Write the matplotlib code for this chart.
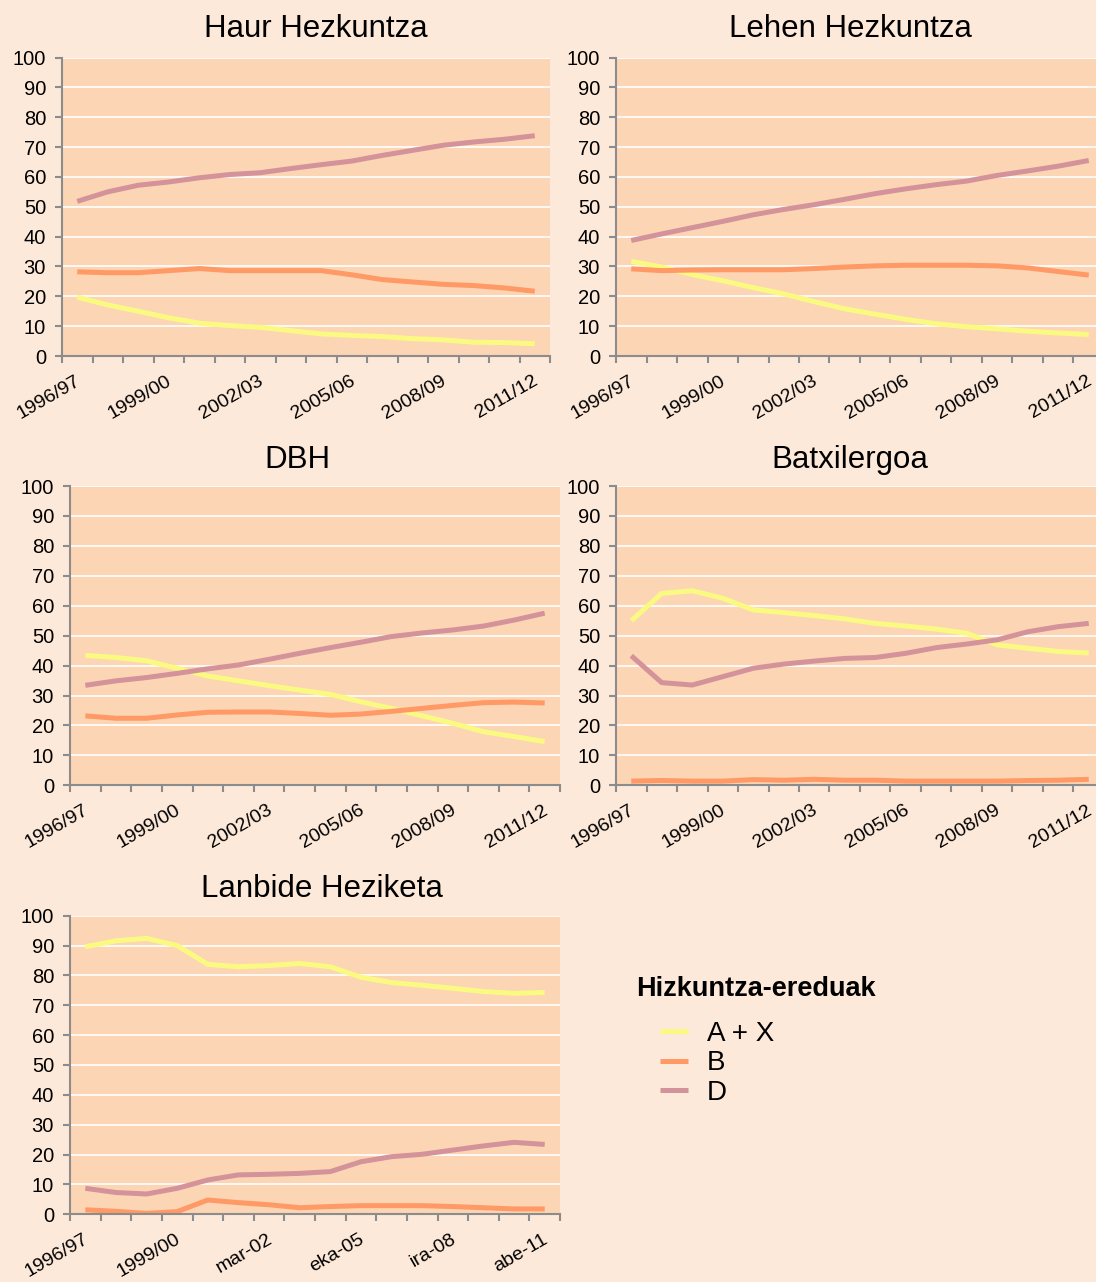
import matplotlib
matplotlib.use("Agg")
import matplotlib.pyplot as plt
from matplotlib.transforms import ScaledTranslation

plt.rcParams['font.family'] = ['Liberation Sans', 'DejaVu Sans']

# school years, 16 categories
years = ['1996/97', '1997/98', '1998/99', '1999/00', '2000/01', '2001/02',
         '2002/03', '2003/04', '2004/05', '2005/06', '2006/07', '2007/08',
         '2008/09', '2009/10', '2010/11', '2011/12']
tick_labels = ['1996/97', '1999/00', '2002/03', '2005/06', '2008/09', '2011/12']
tick_labels_lh = ['1996/97', '1999/00', 'mar-02', 'eka-05', 'ira-08', 'abe-11']

series_names = ['A + X', 'B', 'D']

haur_ax = [19.7, 17.1, 15.0, 12.8, 11.0, 10.2, 9.6, 8.5, 7.4, 6.9, 6.5, 5.8, 5.4, 4.6, 4.5, 4.1]
haur_b = [28.2, 27.9, 27.9, 28.6, 29.3, 28.6, 28.6, 28.6, 28.6, 27.2, 25.6, 24.8, 24.0, 23.6, 22.8, 21.7]
haur_d = [51.8, 55.0, 57.2, 58.3, 59.7, 60.8, 61.4, 62.8, 64.1, 65.3, 67.2, 68.9, 70.6, 71.7, 72.6, 73.8]

lehen_ax = [31.7, 29.8, 27.3, 25.2, 22.9, 20.8, 18.2, 15.8, 14.0, 12.3, 10.8, 9.8, 9.1, 8.3, 7.7, 7.2]
lehen_b = [29.2, 28.6, 28.8, 28.9, 28.9, 28.9, 29.3, 29.8, 30.2, 30.4, 30.4, 30.4, 30.2, 29.5, 28.3, 27.1]
lehen_d = [38.7, 40.9, 43.0, 45.1, 47.3, 49.1, 50.7, 52.5, 54.4, 56.0, 57.4, 58.6, 60.5, 62.0, 63.6, 65.5]

dbh_ax = [43.4, 42.7, 41.6, 39.1, 36.5, 34.9, 33.3, 31.8, 30.4, 27.9, 25.7, 23.2, 20.7, 17.9, 16.3, 14.6]
dbh_b = [23.2, 22.4, 22.4, 23.5, 24.4, 24.5, 24.5, 24.0, 23.4, 23.8, 24.7, 25.7, 26.7, 27.6, 27.8, 27.5]
dbh_d = [33.4, 34.9, 36.0, 37.4, 38.9, 40.2, 42.1, 44.1, 46.0, 47.8, 49.7, 50.9, 51.9, 53.2, 55.2, 57.5]

batx_ax = [55.0, 64.1, 65.0, 62.5, 58.6, 57.7, 56.7, 55.6, 54.1, 53.2, 52.2, 50.8, 46.9, 45.8, 44.7, 44.2]
batx_b = [1.4, 1.6, 1.4, 1.4, 1.9, 1.7, 2.0, 1.7, 1.7, 1.4, 1.4, 1.4, 1.4, 1.6, 1.7, 2.0]
batx_d = [43.3, 34.3, 33.5, 36.3, 39.1, 40.5, 41.5, 42.4, 42.7, 44.1, 46.0, 47.2, 48.6, 51.3, 53.0, 54.1]

lanb_ax = [89.6, 91.6, 92.4, 90.0, 83.7, 82.9, 83.3, 84.0, 82.9, 79.4, 77.6, 76.7, 75.7, 74.6, 74.0, 74.3]
lanb_b = [1.5, 1.0, 0.3, 0.9, 4.8, 3.9, 3.2, 2.2, 2.6, 2.9, 2.9, 2.9, 2.6, 2.2, 1.8, 1.8]
lanb_d = [8.7, 7.3, 6.8, 8.7, 11.5, 13.2, 13.4, 13.7, 14.3, 17.6, 19.3, 20.1, 21.5, 22.9, 24.1, 23.4]

colors = ['#FAFA82', '#FF9966', '#D4939A']
bg = '#FDE9D9'
plot_bg = '#FCD5B4'
axis_gray = '#8C8C8C'

W, H = 1096, 1282
fig = plt.figure(figsize=(W / 100, H / 100), dpi=100, facecolor=bg)


def px_axes(x0, x1, y0, y1):
    return fig.add_axes([x0 / W, 1 - y1 / H, (x1 - x0) / W, (y1 - y0) / H])


panels = [
    ('Haur Hezkuntza', (62, 550, 57.5, 356), (316, 29), tick_labels, [haur_ax, haur_b, haur_d]),
    ('Lehen Hezkuntza', (616, 1104, 57.5, 356), (850, 29), tick_labels, [lehen_ax, lehen_b, lehen_d]),
    ('DBH', (70, 560, 486, 785.3), (297, 460), tick_labels, [dbh_ax, dbh_b, dbh_d]),
    ('Batxilergoa', (616, 1104, 486, 785.3), (850, 460), tick_labels, [batx_ax, batx_b, batx_d]),
    ('Lanbide Heziketa', (70, 560, 915.7, 1214.3), (322, 889), tick_labels_lh, [lanb_ax, lanb_b, lanb_d]),
]

# small shift of the rotated category labels, 4 px to the right
label_shift = ScaledTranslation(4 / 100, 0, fig.dpi_scale_trans)

x = list(range(len(years)))
handles = None
for title, box, tpos, xlabels, data in panels:
    ax = px_axes(*box)
    ax.set_facecolor(plot_bg)
    lines = []
    for vals, c, name in zip(data, colors, series_names):
        ln, = ax.plot(x, vals, color=c, lw=3.6, label=name, solid_capstyle='butt')
        lines.append(ln)
    if handles is None:
        handles = lines
    ax.set_xlim(-0.5, len(years) - 0.5)
    ax.set_ylim(0, 100)
    ax.set_yticks(range(0, 101, 10))
    ax.grid(axis='y', color='white', lw=1.2)
    ax.set_axisbelow(True)
    for s in ['top', 'right']:
        ax.spines[s].set_visible(False)
    for s in ['left', 'bottom']:
        ax.spines[s].set_color(axis_gray)
        ax.spines[s].set_linewidth(1.5)
    ax.tick_params(axis='y', length=5, width=1.5, color=axis_gray, pad=6.5,
                   labelsize=14.5)
    # category boundaries as tick marks, labels on every third category
    ax.set_xticks([i - 0.5 for i in range(len(years) + 1)])
    ax.set_xticklabels([])
    ax.tick_params(axis='x', which='major', length=5, width=1.5, color=axis_gray)
    ax.set_xticks(x[::3], minor=True)
    ax.set_xticklabels(xlabels, minor=True, rotation=30, ha='right', va='baseline',
                       rotation_mode='anchor', fontsize=14)
    ax.tick_params(axis='x', which='minor', length=0, pad=20)
    for lab in ax.get_xticklabels(minor=True):
        lab.set_transform(lab.get_transform() + label_shift)
    fig.text(tpos[0] / W, 1 - tpos[1] / H, title, fontsize=22.5, ha='center', va='center')

fig.text(636 / W, 1 - 989 / H, 'Hizkuntza-ereduak', fontsize=19.5, fontweight='bold',
         ha='left', va='center')
fig.legend(handles, series_names, loc='upper left', bbox_to_anchor=(660 / W, 1 - 1021 / H),
           frameon=False, fontsize=20, handlelength=1.0, handletextpad=0.7,
           labelspacing=0.12, borderpad=0, borderaxespad=0)

fig.savefig('out.png', dpi=100, facecolor=bg)
